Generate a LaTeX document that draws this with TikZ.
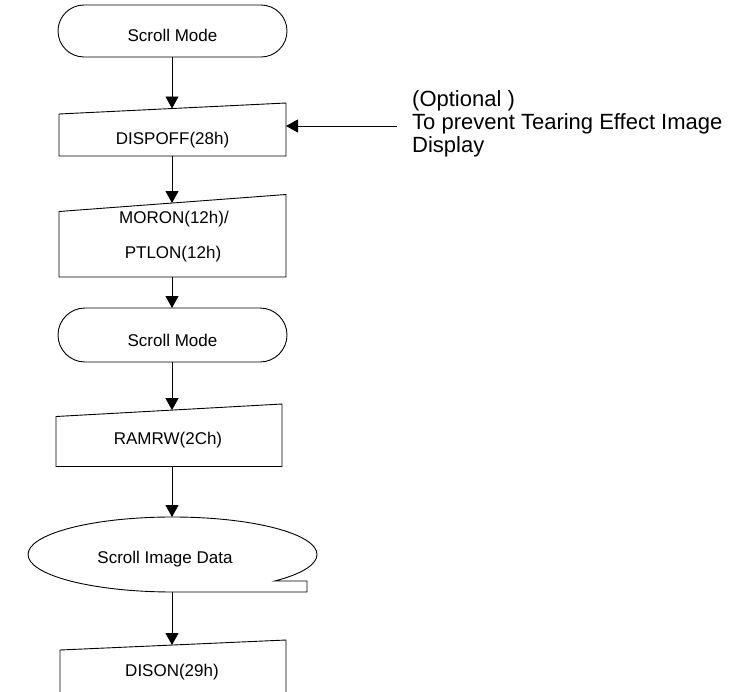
\documentclass[tikz,border=0pt]{standalone}
\usepackage{fontspec}
\setmainfont{Liberation Sans}
\usetikzlibrary{arrows.meta}
\begin{document}
\begin{tikzpicture}[x=1pt,y=-1pt,
  box/.style={draw=black, line width=0.9pt, fill=white, line join=miter},
  lbl/.style={font=\fontsize{17}{20}\selectfont, inner sep=0pt, anchor=base},
  note/.style={font=\fontsize{22}{23}\selectfont, inner sep=0pt, anchor=base west},
  flow/.style={draw=black, line width=0.9pt, -{Triangle[length=12pt,width=13pt]}}]
\useasboundingbox (0,0) rectangle (735,691);
\clip (0,0) rectangle (735,691);
\fill[white] (0,0) rectangle (735,691);

% Terminator 1
\draw[box, rounded corners=26pt] (58,5) rectangle (287,57);
\node[lbl] (t1) at (172.5,41) {Scroll Mode};
\coordinate (t1b) at (172,57);

% DISPOFF
\draw[box] (59,114) -- (286,103) -- (286,156) -- (59,156) -- cycle;
\node[lbl] (dispoff) at (172.5,144) {DISPOFF(28h)};
\coordinate (dispofft) at (172,108.5);
\coordinate (dispoffb) at (172,156);
\coordinate (dispoffr) at (286,126);

% MORON / PTLON
\draw[box] (59,211.5) -- (286,194.5) -- (286,277) -- (59,277) -- cycle;
\node[lbl] (moron) at (174,223) {MORON(12h)/};
\node[lbl] (ptlon) at (173,258) {PTLON(12h)};
\coordinate (moront) at (172,203);
\coordinate (moronb) at (172,277);

% Terminator 2
\draw[box, rounded corners=27pt] (58,308) rectangle (287,362);
\node[lbl] (t2) at (172.5,346) {Scroll Mode};
\coordinate (t2t) at (172,308);
\coordinate (t2b) at (172,362);

% RAMRW
\draw[box] (56,416.5) -- (282,404) -- (282,466.5) -- (56,466.5) -- cycle;
\node[lbl] (ramrw) at (168,444.5) {RAMRW(2Ch)};
\coordinate (ramrwt) at (172,410.1);
\coordinate (ramrwb) at (172,466.5);

% Scroll Image Data (tape / stored data)
\draw[box] (274.7,581) arc[start angle=45, end angle=-270, x radius=144.5, y radius=37.5]
  -- (307,592) -- (307,581) -- cycle;
\node[lbl] (sid) at (165,563) {Scroll Image Data};
\coordinate (sidt) at (172,517);
\coordinate (sidb) at (172,592);

% DISON
\draw[box] (60,650) -- (286,640) -- (286,720) -- (60,720) -- cycle;
\node[lbl] (dison) at (172,676) {DISON(29h)};
\coordinate (disont) at (172,645);

% Annotation
\node[note] (opt) at (412,106) {(Optional )};
\node[note] (tpr) at (412,129) {To prevent Tearing Effect Image};
\node[note] (dsp) at (412,152) {Display};
\coordinate (notel) at (397,126);

% Connectors
\draw[flow] (t1b) -- (dispofft);
\draw[flow] (notel) -- (dispoffr);
\draw[flow] (dispoffb) -- (moront);
\draw[flow] (moronb) -- (t2t);
\draw[flow] (t2b) -- (ramrwt);
\draw[flow] (ramrwb) -- (sidt);
\draw[flow] (sidb) -- (disont);
\end{tikzpicture}
\end{document}
